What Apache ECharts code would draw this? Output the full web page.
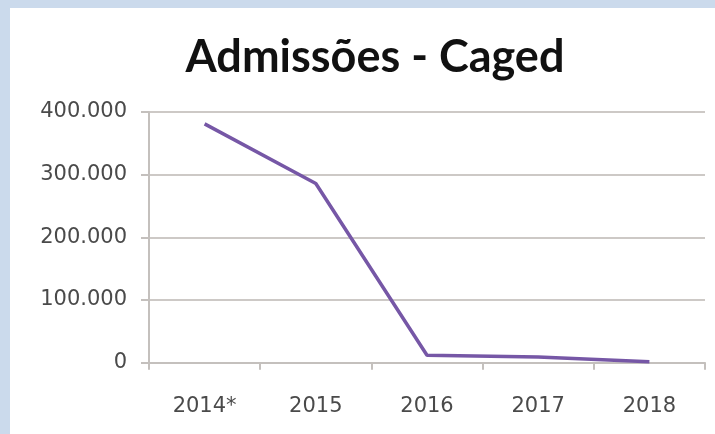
<!DOCTYPE html>
<html>
<head>
<meta charset="utf-8">
<script src="https://cdn.jsdelivr.net/npm/echarts@6/dist/echarts.min.js"></script>
<style>
  html, body { margin: 0; padding: 0; }
  body { width: 715px; height: 434px; background: #cbdaec; position: relative; overflow: hidden; }
  #chart { position: absolute; left: 10px; top: 8px; width: 705px; height: 426px; background: #ffffff; }
</style>
</head>
<body>
<div id="chart"></div>
<script>
const titleText = 'Admissões - Caged';
const categories = ['2014*', '2015', '2016', '2017', '2018'];
const admissoes = [381000, 286000, 12000, 9000, 1500];
const yTicks = [0, 100000, 200000, 300000, 400000];

function fmt(v) {
  return String(v).replace(/\B(?=(\d{3})+(?!\d))/g, '.');
}

const chart = echarts.init(document.getElementById('chart'), null, { renderer: 'canvas' });
chart.setOption({
  animation: false,
  backgroundColor: '#ffffff',
  title: {
    text: titleText,
    left: 360,
    textAlign: 'center',
    top: 22,
    textStyle: { fontFamily: 'Lato', fontWeight: 'bold', fontSize: 45, color: '#111111' }
  },
  grid: { left: 139, right: 10, top: 104, bottom: 71.3, containLabel: false },
  xAxis: {
    type: 'category',
    data: categories,
    boundaryGap: true,
    axisLine: { lineStyle: { color: '#c4c0bd', width: 2 } },
    axisTick: { show: true, length: 7, lineStyle: { color: '#c4c0bd', width: 2 } },
    axisLabel: { margin: 33, fontFamily: 'DejaVu Sans', fontSize: 21, color: '#4a4a4a' }
  },
  yAxis: {
    type: 'value',
    min: yTicks[0],
    max: yTicks[yTicks.length - 1],
    interval: 100000,
    axisLine: { show: true, lineStyle: { color: '#c4c0bd', width: 2 } },
    axisTick: { show: true, length: 8, lineStyle: { color: '#c4c0bd', width: 2 } },
    splitLine: { lineStyle: { color: '#cdc9c6', width: 2 } },
    axisLabel: {
      margin: 22, fontFamily: 'DejaVu Sans', fontSize: 21, color: '#4a4a4a',
      formatter: fmt
    }
  },
  series: [{
    type: 'line',
    data: admissoes,
    symbol: 'none',
    lineStyle: { color: '#7657a6', width: 3.5 }
  }]
});
</script>
</body>
</html>
